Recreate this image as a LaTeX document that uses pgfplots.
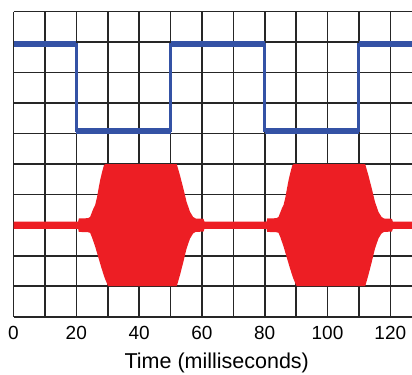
\documentclass[border=0pt]{standalone}
\usepackage{pgfplots}
\pgfplotsset{compat=1.18}
\usepackage{fontspec}
\setmainfont{Liberation Sans}
\definecolor{trred}{RGB}{237,30,36}
\definecolor{trblue}{RGB}{52,82,165}
\begin{document}
\begin{tikzpicture}
\begin{axis}[
  scale only axis, width=398.5pt, height=305pt,
  xmin=0, xmax=126.9, ymin=0, ymax=10,
  xtick={0,20,...,120}, minor xtick={10,30,...,110},
  ytick={0,1,...,10}, yticklabels={},
  grid=both,
  major grid style={black!85, line width=1.6pt},
  minor grid style={black!85, line width=1.6pt},
  axis line style={draw=none},
  major tick length=0pt, minor tick length=0pt,
  tick style={draw=none},
  /pgf/number format/assume math mode=true,
  ticklabel style={font=\fontsize{19}{23}\selectfont},
  xticklabel style={anchor=base, yshift=-22.5pt},
  xlabel={Time (milliseconds)},
  xlabel style={at={(axis description cs:0.5,0)}, anchor=base, yshift=-51.5pt, xshift=4pt, font=\fontsize{21.5}{25}\selectfont},
]
% red burst envelope (upper edge left to right, lower edge right to left)
\addplot[fill=trred, draw=none] coordinates {
(0,3.12) (20.6,3.12) (20.8,3.22) (23.7,3.23) (24.4,3.27) (25.0,3.43) (25.5,3.56) (26.0,3.66) (26.6,3.92) (27.1,4.21) (27.6,4.48) (28.2,4.74) (28.8,4.97) (29.2,5.0)
(52.0,5.0) (53.0,4.64) (54.1,4.2) (55.1,3.77) (56.2,3.44) (57.2,3.27) (58.0,3.22) (60.5,3.21) (60.8,3.12)
(80.6,3.12) (80.8,3.22) (83.7,3.23) (84.4,3.27) (85.0,3.43) (85.5,3.56) (86.0,3.66) (86.6,3.92) (87.1,4.21) (87.6,4.48) (88.2,4.74) (88.8,4.97) (89.2,5.0)
(112.0,5.0) (113.0,4.64) (114.1,4.2) (115.1,3.77) (116.2,3.44) (117.2,3.27) (118.0,3.22) (120.5,3.21) (120.8,3.12) (127,3.12)
(127,2.88) (120.8,2.88) (120.5,2.79) (118.0,2.78) (117.2,2.73) (116.2,2.56) (115.1,2.23) (114.1,1.8) (113.0,1.36) (112.0,1.0)
(90.3,1.0) (90,1.03) (89,1.28) (88,1.6) (87,1.95) (86,2.3) (85,2.6) (84.4,2.75) (83.7,2.77) (80.8,2.78) (80.6,2.88)
(60.8,2.88) (60.5,2.79) (58.0,2.78) (57.2,2.73) (56.2,2.56) (55.1,2.23) (54.1,1.8) (53.0,1.36) (52.0,1.0)
(30.3,1.0) (30,1.03) (29,1.28) (28,1.6) (27,1.95) (26,2.3) (25,2.6) (24.4,2.75) (23.7,2.77) (20.8,2.78) (20.6,2.88) (0,2.88)
} -- cycle;
% blue square wave
\addplot[trblue, line width=3pt] coordinates {
(0,8.93) (20,8.93) (20,6.1) (50,6.1) (50,8.93) (80,8.93) (80,6.1) (110,6.1) (110,8.93) (127,8.93)};
\addplot[trblue, line width=6pt, unbounded coords=jump] coordinates {
(0,8.93) (20,8.93) (35,nan) (20,6.1) (50,6.1) (65,nan) (50,8.93) (80,8.93) (95,nan) (80,6.1) (110,6.1) (118,nan) (110,8.93) (127,8.93)};
\end{axis}
\pgfresetboundingbox
\path[use as bounding box] ([xshift=-13.5pt,yshift=-58pt]current axis.south west) rectangle ([yshift=11.7pt]current axis.north east);
\end{tikzpicture}
\end{document}
